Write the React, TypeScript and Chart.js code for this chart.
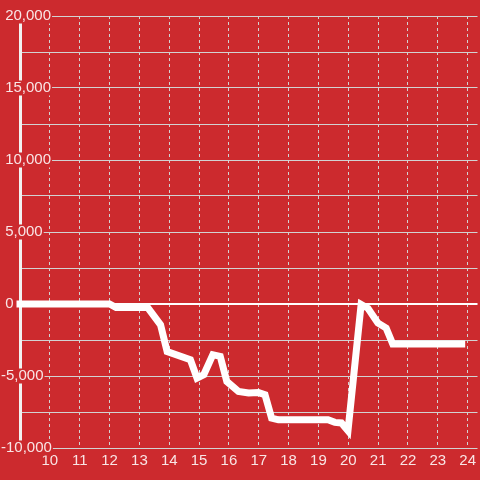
import React, { useEffect, useRef } from 'react';
import { Chart, registerables } from 'chart.js';

Chart.register(...registerables);

// Data (hour of day -> value)
const hours = [9, 12.0, 12.22, 13.28, 13.71, 13.93, 14.71, 14.93, 15.16, 15.46, 15.71, 15.93, 16.32, 16.66, 16.99, 17.21, 17.43, 17.66, 19.32, 19.55, 19.77, 19.99, 20.43, 20.66, 20.99, 21.27, 21.49, 23.8];
const values = [0, 0, -250, -250, -1450, -3300, -3870, -5140, -4900, -3520, -3640, -5380, -6070, -6180, -6150, -6300, -7920, -8040, -8040, -8220, -8260, -8800, -30, -300, -1320, -1670, -2780, -2780];

// Axis settings
const xMin = 9;
const xMax = 24.33;
const xFirstLabel = 10;
const yMin = -10000;
const yMax = 20000;
const yStep = 2500;
const yLabelStep = 5000;

const BG = '#cc2a2e';
const TEXT = 'rgba(255,255,255,0.88)';
const GRID = '#d2d2d2';

export default function App() {
  const canvasRef = useRef<HTMLCanvasElement | null>(null);

  useEffect(() => {
    const canvas = canvasRef.current;
    if (!canvas) return;
    Chart.defaults.font.family = 'Arial, "Liberation Sans", sans-serif';

    const chart = new Chart(canvas, {
      type: 'line',
      data: {
        datasets: [
          {
            data: hours.map((h, i) => ({ x: h, y: values[i] })),
            borderColor: '#ffffff',
            backgroundColor: '#ffffff',
            borderWidth: 7,
            pointRadius: 0,
            tension: 0,
            fill: false,
            borderCapStyle: 'square',
            clip: false,
          } as any,
        ],
      },
      options: {
        responsive: false,
        animation: false,
        layout: { padding: { top: 16, left: 1, right: 0, bottom: 0 } },
        plugins: { legend: { display: false }, tooltip: { enabled: false } },
        scales: {
          x: {
            type: 'linear',
            min: xMin,
            max: xMax,
            afterBuildTicks: (scale: any) => {
              scale.ticks = scale.ticks.filter((t: any) => t.value >= xFirstLabel);
            },
            afterFit: (scale: any) => {
              scale.height = 32;
            },
            ticks: {
              stepSize: 1,
              includeBounds: false,
              autoSkip: false,
              maxRotation: 0,
              padding: 4,
              color: TEXT,
              font: { size: 15 },
              callback: (v: any) => String(v),
            },
            grid: {
              color: GRID,
              lineWidth: 1,
              drawTicks: false,
            },
            border: { display: false, dash: [3, 3] },
          },
          y: {
            type: 'linear',
            min: yMin,
            max: yMax,
            afterFit: (scale: any) => {
              scale.width = 19;
            },
            ticks: {
              stepSize: yStep,
              autoSkip: false,
              mirror: true,
              crossAlign: 'near',
              padding: -19,
              color: TEXT,
              font: { size: 15, lineHeight: 1 },
              showLabelBackdrop: true,
              backdropColor: BG,
              backdropPadding: { top: 0, bottom: 0, left: 0, right: 1 },
              callback: (v: any) => {
                const n = Number(v);
                if (n % yLabelStep !== 0) return '';
                return (n < 0 ? '-' : ' ') + Math.abs(n).toLocaleString('en-US');
              },
            },
            grid: {
              color: (ctx: any) => (ctx.tick && ctx.tick.value === 0 ? '#ffffff' : GRID),
              lineWidth: (ctx: any) => (ctx.tick && ctx.tick.value === 0 ? 2 : 1),
              drawTicks: false,
            },
            border: { display: true, color: '#f2f2f2', width: 3 },
          },
        },
      } as any,
    });
    return () => chart.destroy();
  }, []);

  return (
    <div style={{ position: 'fixed', left: 0, top: 0, width: 480, height: 480, background: BG }}>
      <canvas ref={canvasRef} width={480} height={480} style={{ display: 'block', width: 480, height: 480 }} />
    </div>
  );
}
